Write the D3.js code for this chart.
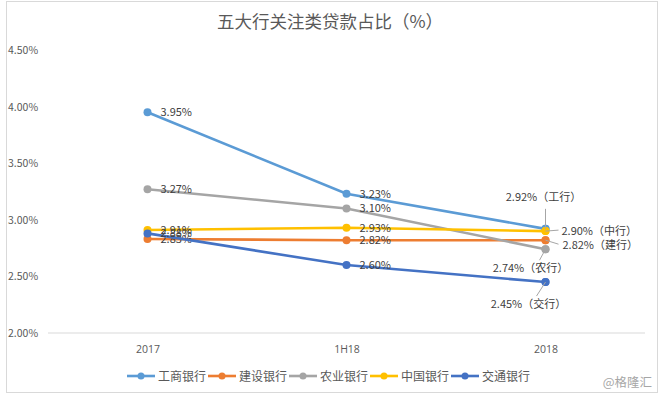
<!DOCTYPE html>
<html>
<head>
<meta charset="utf-8">
<script src="https://cdn.jsdelivr.net/npm/d3@7"></script>
<style>
  body { margin: 0; background: #fff; }
  text { font-family: "Noto Sans CJK SC", "Open Sans", sans-serif; }
</style>
</head>
<body>
<script>
var width = 660;
var height = 396;

var categories = ["2017", "1H18", "2018"];
var seriesNames = ["工商银行", "建设银行", "农业银行", "中国银行", "交通银行"];
var shortNames = ["工行", "建行", "农行", "中行", "交行"];
var icbc = [3.95, 3.23, 2.92];
var ccb = [2.83, 2.82, 2.82];
var abc = [3.27, 3.10, 2.74];
var boc = [2.91, 2.93, 2.90];
var bocom = [2.88, 2.60, 2.45];
var yTicks = [2.0, 2.5, 3.0, 3.5, 4.0, 4.5];
var colors = ["#5b9bd5", "#ed7d31", "#a5a5a5", "#ffc000", "#4472c4"];

var series = [icbc, ccb, abc, boc, bocom].map(function(v, i) {
  return { name: seriesNames[i], short: shortNames[i], values: v, color: colors[i] };
});

var svg = d3.select("body").append("svg")
  .attr("width", width)
  .attr("height", height);

// 外框
svg.append("rect")
  .attr("x", 6.5).attr("y", 1.5)
  .attr("width", 651).attr("height", 391)
  .attr("fill", "none")
  .attr("stroke", "#d9d9d9");

var x = d3.scalePoint().domain(categories).range([48, 645]).padding(0.5);
var y = d3.scaleLinear().domain([2.0, 4.5]).range([333, 50]);

// 标题
svg.append("text")
  .attr("x", 330).attr("y", 28)
  .attr("text-anchor", "middle")
  .attr("font-size", 17.5)
  .attr("fill", "#595959")
  .text("五大行关注类贷款占比（%）");

// y轴刻度
svg.selectAll(".ytick").data(yTicks).enter().append("text")
  .attr("x", 8)
  .attr("y", function(d) { return y(d) + 4; })
  .attr("font-size", 10.5)
  .attr("fill", "#595959")
  .text(function(d) { return d.toFixed(2) + "%"; });

// 底线
svg.append("line")
  .attr("x1", 48).attr("x2", 645)
  .attr("y1", y(2.0)).attr("y2", y(2.0))
  .attr("stroke", "#d9d9d9");

// x轴
var xAxis = svg.append("g")
  .attr("transform", "translate(0," + y(2.0) + ")")
  .call(d3.axisBottom(x).tickSize(0).tickPadding(13));
xAxis.select(".domain").remove();
xAxis.selectAll("text")
  .attr("font-size", 10.5)
  .attr("fill", "#595959")
  .style("font-family", "\"Open Sans\", sans-serif");

var line = d3.line()
  .x(function(d, i) { return x(categories[i]); })
  .y(function(d) { return y(d); });

var g = svg.selectAll(".series").data(series).enter().append("g");

g.append("path")
  .attr("d", function(d) { return line(d.values); })
  .attr("fill", "none")
  .attr("stroke", function(d) { return d.color; })
  .attr("stroke-width", 2.6);

g.selectAll("circle").data(function(d) {
  return d.values.map(function(v, i) { return { v: v, i: i, color: d.color }; });
}).enter().append("circle")
  .attr("cx", function(d) { return x(categories[d.i]); })
  .attr("cy", function(d) { return y(d.v); })
  .attr("r", 4)
  .attr("fill", function(d) { return d.color; });

// 前两期数据标签
g.selectAll(".lbl").data(function(d) {
  return d.values.slice(0, 2).map(function(v, i) { return { v: v, i: i }; });
}).enter().append("text")
  .attr("x", function(d) { return x(categories[d.i]) + 13; })
  .attr("y", function(d) { return y(d.v) + 4; })
  .attr("font-size", 11)
  .attr("fill", "#404040")
  .text(function(d) { return d.v.toFixed(2) + "%"; });

// 2018 标签（带引导线）
var last = x("2018");
var endLabels = [
  { s: 0, dx: -2, dy: -28, anchor: "middle", lx: 0, ly: -20 },
  { s: 3, dx: 16, dy: 4, anchor: "start", lx: 13, ly: -1 },
  { s: 1, dx: 17, dy: 9, anchor: "start", lx: 13, ly: 4 },
  { s: 2, dx: -15, dy: 23, anchor: "middle", lx: -6, ly: 11 },
  { s: 4, dx: -17, dy: 26, anchor: "middle", lx: -9, ly: 14 }
];
endLabels.forEach(function(e) {
  var sr = series[e.s];
  var py = y(sr.values[2]);
  svg.append("line")
    .attr("x1", last).attr("y1", py)
    .attr("x2", last + e.lx).attr("y2", py + e.ly)
    .attr("stroke", "#a6a6a6")
    .attr("stroke-width", 1);
  svg.append("text")
    .attr("x", last + e.dx)
    .attr("y", py + e.dy)
    .attr("text-anchor", e.anchor)
    .attr("font-size", 11)
    .attr("fill", "#404040")
    .text(sr.values[2].toFixed(2) + "%（" + sr.short + "）");
});
// 重新把最后一点画在引导线之上
g.append("circle")
  .attr("cx", last)
  .attr("cy", function(d) { return y(d.values[2]); })
  .attr("r", 4)
  .attr("fill", function(d) { return d.color; });

// 图例
var legend = svg.selectAll(".legend").data(series).enter().append("g")
  .attr("transform", function(d, i) { return "translate(" + (127 + i * 81) + ",376)"; });
legend.append("line")
  .attr("x1", 0).attr("x2", 28)
  .attr("stroke", function(d) { return d.color; })
  .attr("stroke-width", 2.6);
legend.append("circle")
  .attr("cx", 14).attr("r", 3.5)
  .attr("fill", function(d) { return d.color; });
legend.append("text")
  .attr("x", 31).attr("y", 4.5)
  .attr("font-size", 12)
  .attr("fill", "#595959")
  .text(function(d) { return d.name; });

// 水印
svg.append("text")
  .attr("x", 652).attr("y", 387)
  .attr("text-anchor", "end")
  .attr("font-size", 12.5)
  .attr("fill", "#a6a6a6")
  .text("@格隆汇");
</script>
</body>
</html>
